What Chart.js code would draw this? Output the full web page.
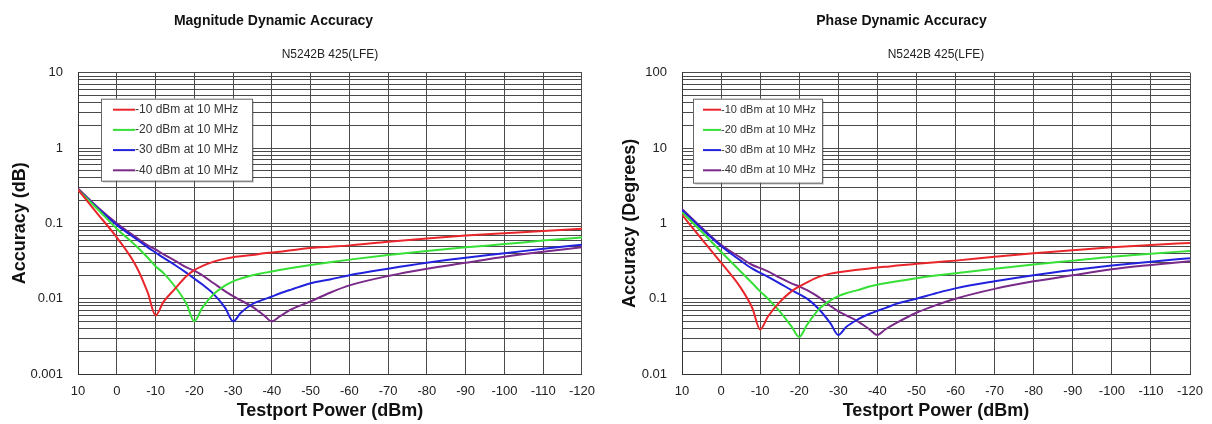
<!DOCTYPE html>
<html><head><meta charset="utf-8">
<script src="https://cdn.jsdelivr.net/npm/chart.js@4.4.1/dist/chart.umd.min.js"></script>
<style>
html,body{margin:0;padding:0;background:#fff;width:1212px;height:424px;overflow:hidden;position:relative}
.wrap{position:absolute;top:0;height:424px}
#w1{left:-35px;width:640px}
#w2{left:613px;width:606px}
canvas{display:block}
</style></head><body>
<div class="wrap" id="w1"><canvas id="c1" width="640" height="424"></canvas></div>
<div class="wrap" id="w2"><canvas id="c2" width="606" height="424"></canvas></div>
<script>
// ---------- data ----------
const powerDbm = [10,5,0,-5,-8,-10,-12,-15,-18,-20,-22,-25,-28,-30,-32,-35,-38,-40,-42,-45,-50,-55,-60,-70,-80,-90,-100,-110,-120];
const xTickValues = [10,0,-10,-20,-30,-40,-50,-60,-70,-80,-90,-100,-110,-120];
const seriesLabels = ['-10 dBm at 10 MHz','-20 dBm at 10 MHz','-30 dBm at 10 MHz','-40 dBm at 10 MHz'];
const seriesColors = ['#e8262b','#36e036','#2222dd','#7a2a88'];

// Magnitude dynamic accuracy (dB)
const magRef10 = [0.28,0.135,0.065,0.027,0.012,0.006,0.009,0.0135,0.02,0.024,0.027,0.031,0.034,0.0355,0.0365,0.038,0.040,0.041,0.042,0.044,0.047,0.049,0.051,0.057,0.063,0.069,0.074,0.079,0.085];
const magRef20 = [0.28,0.155,0.085,0.05,0.035,0.027,0.022,0.0145,0.0085,0.005,0.0075,0.0115,0.015,0.017,0.0185,0.0205,0.022,0.023,0.024,0.0255,0.028,0.0305,0.033,0.038,0.043,0.048,0.053,0.059,0.065];
const magRef30 = [0.28,0.16,0.095,0.062,0.048,0.041,0.035,0.028,0.022,0.0185,0.0155,0.0115,0.0075,0.005,0.0065,0.0085,0.0098,0.0107,0.0117,0.0132,0.016,0.018,0.0205,0.025,0.030,0.035,0.040,0.046,0.052];
const magRef40 = [0.29,0.165,0.1,0.065,0.051,0.045,0.039,0.032,0.026,0.0235,0.0205,0.016,0.0125,0.0108,0.0095,0.0078,0.006,0.005,0.0058,0.0072,0.0092,0.012,0.015,0.020,0.025,0.030,0.036,0.042,0.048];
const magTickLabels = ['0.001','0.01','0.1','1','10'];

// Phase dynamic accuracy (degrees)
const phaseRef10 = [1.3,0.62,0.3,0.14,0.075,0.039,0.058,0.09,0.125,0.145,0.165,0.195,0.215,0.225,0.232,0.242,0.252,0.26,0.265,0.275,0.29,0.305,0.32,0.36,0.40,0.44,0.48,0.515,0.55];
const phaseRef20 = [1.4,0.78,0.42,0.23,0.16,0.125,0.1,0.068,0.043,0.031,0.045,0.072,0.095,0.108,0.118,0.13,0.145,0.153,0.16,0.17,0.187,0.203,0.218,0.25,0.285,0.32,0.36,0.395,0.43];
const phaseRef30 = [1.5,0.85,0.5,0.32,0.25,0.22,0.195,0.16,0.13,0.115,0.1,0.073,0.047,0.033,0.042,0.053,0.063,0.069,0.075,0.086,0.1,0.118,0.137,0.17,0.205,0.24,0.275,0.31,0.345];
const phaseRef40 = [1.55,0.88,0.52,0.35,0.28,0.255,0.23,0.19,0.16,0.145,0.13,0.105,0.08,0.068,0.06,0.05,0.039,0.033,0.039,0.048,0.065,0.082,0.1,0.135,0.17,0.205,0.245,0.28,0.315];
const phaseTickLabels = ['0.01','0.1','1','10','100'];

// ---------- helpers ----------
const FONT = "'Liberation Sans', Arial, sans-serif";
const TITLE_FONT = { family: FONT, size: 14, weight: 'bold' };

function makeDatasets(arrs){
  return arrs.map((vals,i)=>({
    label: seriesLabels[i],
    data: powerDbm.map((x,j)=>({x:x,y:vals[j]})),
    borderColor: seriesColors[i],
    backgroundColor: seriesColors[i],
    borderWidth: 2,
    pointRadius: 0,
    cubicInterpolationMode: 'monotone',
    spanGaps: true
  }));
}

const insetLegend = {
  id: 'insetLegend',
  afterDatasetsDraw(chart, args, opts){
    const {ctx, chartArea} = chart;
    const x0 = chartArea.left + opts.dx, y0 = chartArea.top + opts.dy;
    ctx.save();
    ctx.fillStyle = 'rgba(0,0,0,0.18)';
    ctx.fillRect(x0+2, y0+2, opts.w, opts.h);
    ctx.fillStyle = '#fff';
    ctx.fillRect(x0, y0, opts.w, opts.h);
    ctx.strokeStyle = '#666';
    ctx.lineWidth = 1;
    ctx.strokeRect(x0+0.5, y0+0.5, opts.w, opts.h);
    ctx.font = opts.fontSize + 'px ' + FONT;
    ctx.textBaseline = 'middle';
    ctx.textAlign = 'left';
    chart.data.datasets.forEach((ds,i)=>{
      const yy = y0 + opts.firstRow + i*opts.rowGap;
      ctx.strokeStyle = ds.borderColor;
      ctx.lineWidth = 2;
      ctx.beginPath();
      ctx.moveTo(x0 + opts.lineX, yy);
      ctx.lineTo(x0 + opts.lineX + opts.lineLen, yy);
      ctx.stroke();
      ctx.fillStyle = '#333';
      ctx.fillText(ds.label, x0 + opts.lineX + opts.lineLen, yy);
    });
    ctx.restore();
  }
};

function makeChart(canvasId, cfg){
  const tickLabels = cfg.tickLabels;
  const decades = tickLabels.map(Number);
  return new Chart(document.getElementById(canvasId), {
    type: 'line',
    data: { datasets: makeDatasets(cfg.series) },
    plugins: [insetLegend],
    options: {
      responsive: false,
      animation: false,
      devicePixelRatio: 1,
      layout: { padding: { left: 0, right: cfg.padRight, top: 0, bottom: 0 } },
      plugins: {
        legend: { display: false },
        tooltip: { enabled: false },
        title: { display: true, text: cfg.title, color: '#111',
                 font: TITLE_FONT,
                 padding: { top: 13, bottom: 0 } },
        subtitle: { display: true, text: 'N5242B 425(LFE)', color: '#222', fullSize: false,
                 font: { family: FONT, size: 12 },
                 padding: { top: 31.2 + 16.6 - 13 - TITLE_FONT.size*1.2, bottom: 10.5 } },
        insetLegend: cfg.legend
      },
      scales: {
        x: {
          type: 'linear', reverse: true,
          min: xTickValues[xTickValues.length-1], max: xTickValues[0],
          afterBuildTicks: (s)=>{ s.ticks = xTickValues.map(v=>({value:v})); },
          afterFit: (s)=>{ s.height = 50; },
          grid: { color: '#4a4a4a', lineWidth: 1, drawTicks: false },
          border: { display: true, color: '#333' },
          ticks: { autoSkip: false, maxRotation: 0, padding: 10, color: '#222',
                   font: { family: FONT, size: 13 },
                   callback: (v)=> String(v) },
          title: { display: true, text: 'Testport Power (dBm)', color: '#111',
                   font: { family: FONT, size: 18, weight: 'bold' },
                   padding: { top: 0, bottom: 2 } }
        },
        y: {
          type: 'logarithmic',
          min: decades[0], max: decades[decades.length-1],
          afterBuildTicks: (s)=>{
            const t = [];
            for (let d=0; d<decades.length-1; d++){
              for (let k=1; k<=9; k++) t.push({value: decades[d]*k});
            }
            t.push({value: decades[decades.length-1]});
            s.ticks = t;
          },
          afterFit: (s)=>{ s.width = cfg.yWidth; },
          grid: { color: '#4a4a4a', lineWidth: 1, drawTicks: false },
          border: { display: true, color: '#333' },
          ticks: { autoSkip: false, padding: 15, color: '#222',
                   font: { family: FONT, size: 13 },
                   callback: (v)=>{
                     const i = decades.findIndex(d=>Math.abs(v/d-1)<1e-6);
                     return i>=0 ? tickLabels[i] : '';
                   } },
          title: { display: true, text: cfg.yTitle, color: '#111',
                   font: { family: FONT, size: 18, weight: 'bold' },
                   padding: { top: cfg.yTitlePad, bottom: 0 } }
        }
      }
    }
  });
}

makeChart('c1', {
  title: 'Magnitude Dynamic Accuracy',
  yTitle: 'Accuracy (dB)',
  series: [magRef10, magRef20, magRef30, magRef40],
  tickLabels: magTickLabels,
  padRight: 23, yWidth: 113, yTitlePad: 44,
  legend: { dx: 23, dy: 26, w: 151, h: 82, firstRow: 11, rowGap: 20.2, lineX: 12, lineLen: 22, fontSize: 12 }
});
makeChart('c2', {
  title: 'Phase Dynamic Accuracy',
  yTitle: 'Accuracy (Degrees)',
  series: [phaseRef10, phaseRef20, phaseRef30, phaseRef40],
  tickLabels: phaseTickLabels,
  padRight: 29, yWidth: 69, yTitlePad: 6,
  legend: { dx: 11, dy: 26, w: 129, h: 84, firstRow: 11, rowGap: 20.2, lineX: 10, lineLen: 18, fontSize: 11 }
});
</script>
</body></html>
